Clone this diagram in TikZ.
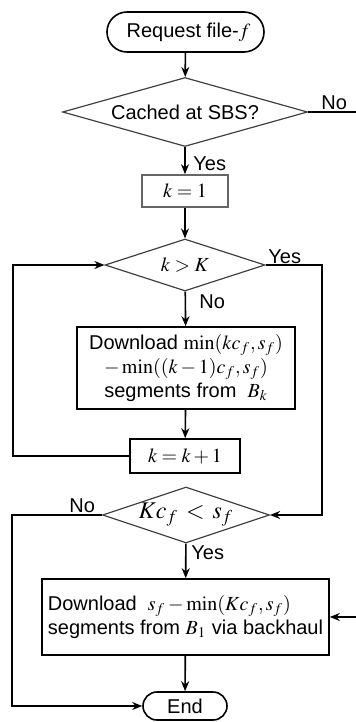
\documentclass[tikz,border=0pt]{standalone}
\usepackage{mathptmx}
\usepackage{fontspec}
\setmainfont{Liberation Sans}
\usetikzlibrary{arrows.meta, shapes.geometric}

\begin{document}
\begin{tikzpicture}[
  x=0.5pt, y=-0.5pt,
  every node/.style={font=\fontsize{10}{12}\selectfont},
  term/.style={rectangle, rounded corners=#1, draw, thick, inner sep=1pt},
  box/.style={rectangle, draw=#1, thick, align=center, inner sep=2pt},
  box/.default=black,
  decision/.style={diamond, draw=black!75, semithick, inner sep=0pt, aspect=#1},
  decision/.default=3,
  arr/.style={-{Stealth[length=5pt, width=4pt]}, thick},
  lbl/.style={inner sep=0pt, anchor=base west},
]
\useasboundingbox (0,0) rectangle (356,722);

% Start and first test
\node[term=10pt, minimum width=78.5pt, minimum height=20pt] (req) at (185.5,32) {\hspace*{3pt}Request file-$f$};
\node[decision=3.55, minimum width=122.5pt, minimum height=34.5pt] (cached) at (185,112) {Cached at SBS?};

% Loop over the SBSs
\node[box=black!60, minimum width=43pt, minimum height=16pt] (kinit) at (185,191) {$k=1$};
\node[decision=3.1, minimum width=80pt, minimum height=26pt] (kcheck) at (185,265) {$k>K$};
\node[box, minimum width=109pt, minimum height=41pt] (dlsbs) at (186,368) {Download $\min(kc_f,s_f)$\\$-\min((k-1)c_f,s_f)$\\segments from \ $B_k$};
\node[box, minimum width=55pt, minimum height=17pt] (kinc) at (185,456) {$k=k+1$};

% Second test and backhaul
\node[decision=3, minimum width=83.5pt, minimum height=28pt, inner xsep=-8pt, inner ysep=-2pt] (kcap) at (186,515) {\large $Kc_f\,<\,s_f$};
\node[box, minimum width=143.5pt, minimum height=38pt, align=left] (dlbh) at (185.5,617) {Download \ $s_f-\min(Kc_f,s_f)$\\segments from $B_1$ via backhaul};
\node[term=7pt, minimum width=42pt, minimum height=14pt] (stop) at (185,706) {End};

% Corner points
\coordinate (noout) at (356,112);
\coordinate (noin) at (356,617);
\coordinate (loopbot) at (13,456);
\coordinate (looptop) at (13,265);
\coordinate (yestop) at (322,265);
\coordinate (yesbot) at (322,515);
\coordinate (notop) at (12,515);
\coordinate (nobot) at (12,706);

% Arrows
\draw[arr] (req) -- (cached);
\draw[arr] (cached) -- (kinit);
\draw[arr] (kinit) -- (kcheck);
\draw[arr] (kcheck) -- (dlsbs);
\draw[arr] (dlsbs) -- (kinc);
\draw[arr] (kinc.west) -- (loopbot) -- (looptop) -- (kcheck.west);
\draw[arr] (kcheck.east) -- (yestop) -- (yesbot) -- (kcap.east);
\draw[arr] (kcap) -- (dlbh);
\draw[arr] (kcap.west) -- (notop) -- (nobot) -- (stop.west);
\draw[arr] (dlbh) -- (stop);
\draw[thick] (cached.east) -- (noout);
\draw[arr] (noin) -- (dlbh.east);

% Labels
\node[lbl] (lno1) at (321,110) {No};
\node[lbl] (lyes1) at (193,170) {Yes};
\node[lbl] (lyes2) at (268,263) {Yes};
\node[lbl] (lno2) at (199,308) {No};
\node[lbl] (lno3) at (69,512) {No};
\node[lbl] (lyes3) at (191,559) {Yes};

\end{tikzpicture}
\end{document}
